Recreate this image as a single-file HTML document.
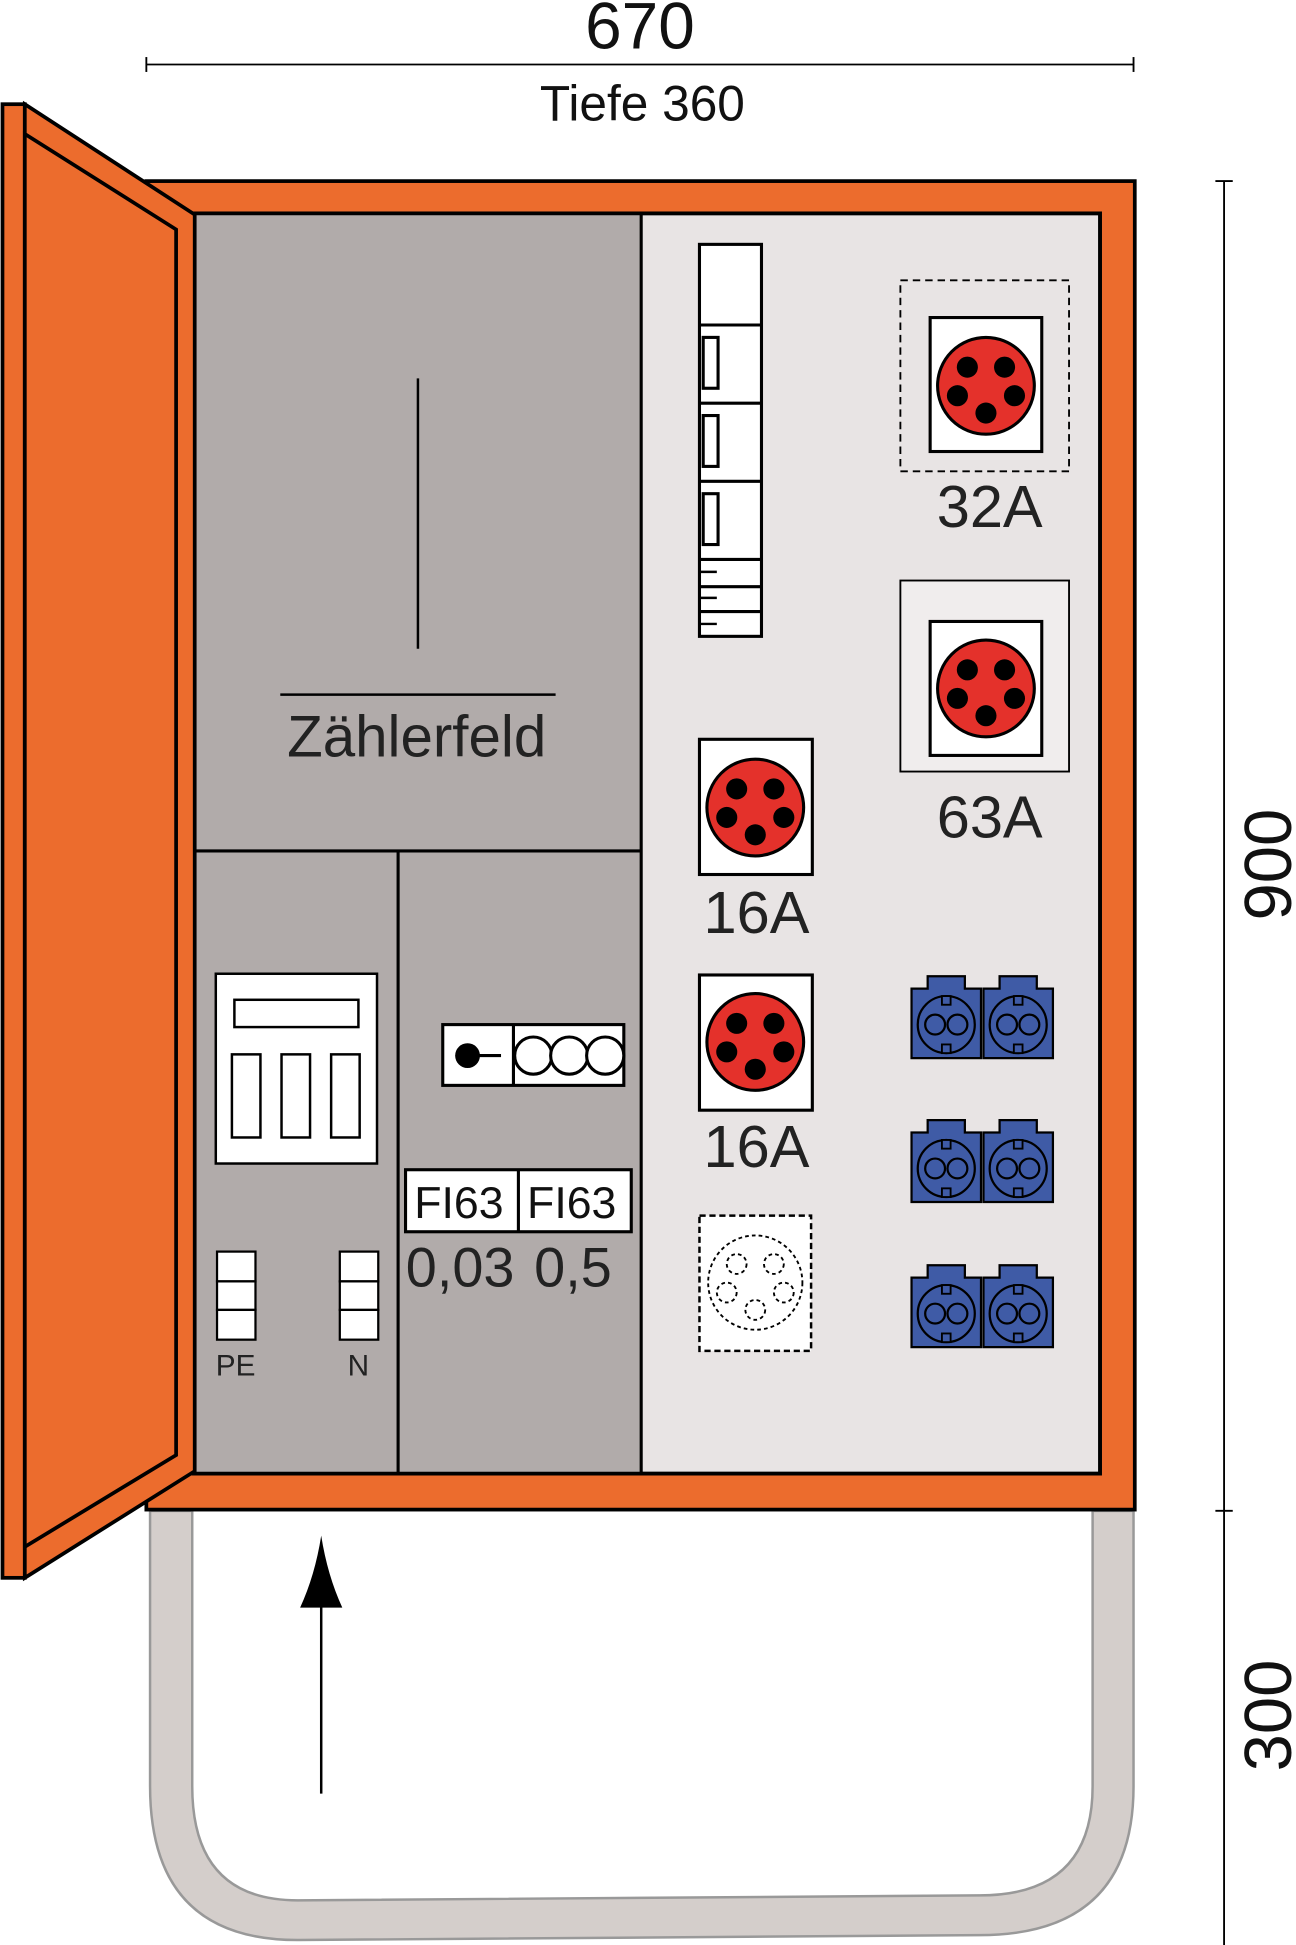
<!DOCTYPE html>
<html><head><meta charset="utf-8"><style>html,body{margin:0;padding:0;background:#fff}svg{display:block}</style></head>
<body>
<svg width="1296" height="1945" viewBox="0 0 1045 1568" preserveAspectRatio="none" xmlns="http://www.w3.org/2000/svg" font-family="Liberation Sans, Arial, sans-serif">
<defs>
<g id="red">
<circle r="39" fill="#e4312b" stroke="#000" stroke-width="2.5"/>
<circle cx="-15" cy="-15" r="8.5" fill="#000"/><circle cx="15" cy="-15" r="8.5" fill="#000"/>
<circle cx="-23" cy="8" r="8.5" fill="#000"/><circle cx="23" cy="8" r="8.5" fill="#000"/>
<circle cx="0" cy="22" r="8.5" fill="#000"/>
</g>
<g id="blue">
<path d="M13,0 H43 V10 H56 V66 H0 V10 H13 Z" fill="#3f5ba6" stroke="#000" stroke-width="1.8"/>
<circle cx="28" cy="39" r="23" fill="#3f5ba6" stroke="#000" stroke-width="1.8"/>
<circle cx="19" cy="39" r="8" fill="none" stroke="#000" stroke-width="1.8"/>
<circle cx="37" cy="39" r="8" fill="none" stroke="#000" stroke-width="1.8"/>
<rect x="24.5" y="16" width="7" height="7" fill="#3f5ba6" stroke="#000" stroke-width="1.5"/>
<rect x="24.5" y="55" width="7" height="7" fill="#3f5ba6" stroke="#000" stroke-width="1.5"/>
</g>
</defs>

<!-- dimensions -->
<line x1="118" y1="52" x2="914" y2="52" stroke="#000" stroke-width="1.5"/>
<line x1="118" y1="46" x2="118" y2="58" stroke="#000" stroke-width="1.5"/>
<line x1="914" y1="46" x2="914" y2="58" stroke="#000" stroke-width="1.5"/>
<text x="516" y="39" font-size="53" text-anchor="middle" fill="#111">670</text>
<text x="518" y="97" font-size="40" text-anchor="middle" fill="#111">Tiefe 360</text>
<line x1="987" y1="146" x2="987" y2="1568" stroke="#000" stroke-width="1.5"/>
<line x1="980" y1="146" x2="994" y2="146" stroke="#000" stroke-width="1.5"/>
<line x1="980" y1="1218" x2="994" y2="1218" stroke="#000" stroke-width="1.5"/>
<text transform="translate(1041,697) rotate(-90)" font-size="54" text-anchor="middle" fill="#111">900</text>
<text transform="translate(1041,1383) rotate(-90)" font-size="54" text-anchor="middle" fill="#111">300</text>

<!-- stand -->
<path d="M121,1218 V1440 Q121,1564 240,1564 L790,1560 Q914,1560 914,1440 V1218 H881 V1440 Q881,1528 790,1528 L240,1532 Q155,1532 155,1440 V1218 Z" fill="#d4cecb" stroke="#999" stroke-width="2"/>

<!-- cabinet -->
<rect x="118" y="146" width="797" height="1071" fill="#ec6c2d" stroke="#000" stroke-width="3"/>
<rect x="156" y="172" width="731" height="1016" fill="#e8e4e4" stroke="#000" stroke-width="3"/>
<rect x="157.5" y="173.5" width="359" height="1013" fill="#b1abaa"/>
<line x1="517" y1="172" x2="517" y2="1188" stroke="#000" stroke-width="2.5"/>
<line x1="156" y1="686" x2="517" y2="686" stroke="#000" stroke-width="2.5"/>
<line x1="321" y1="686" x2="321" y2="1188" stroke="#000" stroke-width="2.5"/>
<rect x="156" y="172" width="731" height="1016" fill="none" stroke="#000" stroke-width="3"/>

<!-- door -->
<rect x="2" y="84" width="18" height="1188" fill="#ec6c2d" stroke="#000" stroke-width="3"/>
<polygon points="20,84 157,173 157,1186 20,1272" fill="#ec6c2d" stroke="#000" stroke-width="3"/>
<polygon points="20,108 142,185 142,1173 20,1247" fill="#ec6c2d" stroke="#000" stroke-width="3"/>

<!-- Zählerfeld -->
<line x1="337" y1="305" x2="337" y2="523" stroke="#000" stroke-width="2"/>
<line x1="226" y1="560" x2="448" y2="560" stroke="#000" stroke-width="2"/>
<text x="336" y="610" font-size="47" text-anchor="middle" fill="#222">Zählerfeld</text>

<!-- meter box -->
<rect x="174" y="785" width="130" height="153" fill="#fff" stroke="#000" stroke-width="2"/>
<rect x="189" y="806" width="100" height="22" fill="#fff" stroke="#000" stroke-width="2"/>
<rect x="187" y="850" width="23" height="67" fill="#fff" stroke="#000" stroke-width="2"/>
<rect x="227" y="850" width="23" height="67" fill="#fff" stroke="#000" stroke-width="2"/>
<rect x="267" y="850" width="23" height="67" fill="#fff" stroke="#000" stroke-width="2"/>

<!-- PE / N -->
<g fill="#fff" stroke="#000" stroke-width="1.8">
<rect x="175" y="1009" width="31" height="24"/><rect x="175" y="1033" width="31" height="23"/><rect x="175" y="1056" width="31" height="24"/>
<rect x="274" y="1009" width="31" height="24"/><rect x="274" y="1033" width="31" height="23"/><rect x="274" y="1056" width="31" height="24"/>
</g>
<text x="190" y="1109" font-size="24" text-anchor="middle" fill="#222">PE</text>
<text x="289" y="1109" font-size="24" text-anchor="middle" fill="#222">N</text>

<!-- switch -->
<rect x="357" y="826" width="146" height="49" fill="#fff" stroke="#000" stroke-width="2.5"/>
<line x1="414" y1="826" x2="414" y2="875" stroke="#000" stroke-width="2.5"/>
<circle cx="377" cy="851" r="10" fill="#000"/>
<line x1="377" y1="851" x2="404" y2="851" stroke="#000" stroke-width="2.5"/>
<g fill="#fff" stroke="#000" stroke-width="2.5"><circle cx="430" cy="851" r="15"/><circle cx="459" cy="851" r="15"/><circle cx="488" cy="851" r="15"/></g>

<!-- FI -->
<rect x="327" y="943" width="182" height="50" fill="#fff" stroke="#000" stroke-width="2.5"/>
<line x1="418" y1="943" x2="418" y2="993" stroke="#000" stroke-width="2.5"/>
<text x="370" y="982" font-size="36" text-anchor="middle" fill="#111">FI63</text>
<text x="461" y="982" font-size="36" text-anchor="middle" fill="#111">FI63</text>
<text x="371" y="1037" font-size="45" text-anchor="middle" fill="#222">0,03</text>
<text x="462" y="1037" font-size="45" text-anchor="middle" fill="#222">0,5</text>

<!-- fuse column -->
<rect x="564" y="197" width="50" height="316" fill="#fff" stroke="#000" stroke-width="2.5"/>
<g stroke="#000" stroke-width="2.5" fill="none">
<line x1="564" y1="262" x2="614" y2="262"/><line x1="564" y1="325" x2="614" y2="325"/>
<line x1="564" y1="388" x2="614" y2="388"/><line x1="564" y1="451" x2="614" y2="451"/>
<line x1="564" y1="473" x2="614" y2="473"/><line x1="564" y1="493" x2="614" y2="493"/>
<rect x="567" y="272" width="12" height="41"/><rect x="567" y="335" width="12" height="41"/><rect x="567" y="398" width="12" height="41"/>
<line x1="564" y1="461" x2="578" y2="461" stroke-width="2"/><line x1="564" y1="482" x2="578" y2="482" stroke-width="2"/><line x1="564" y1="503" x2="578" y2="503" stroke-width="2"/>
</g>

<!-- 32A -->
<rect x="726" y="226" width="136" height="154" fill="none" stroke="#000" stroke-width="1.5" stroke-dasharray="6,4"/>
<rect x="750" y="256" width="90" height="108" fill="#fff" stroke="#000" stroke-width="2.5"/>
<use href="#red" x="795" y="311"/>
<text x="798" y="425" font-size="48" text-anchor="middle" fill="#222">32A</text>

<!-- 63A -->
<rect x="726" y="468" width="136" height="154" fill="#fff" fill-opacity="0.35" stroke="#000" stroke-width="1.5"/>
<rect x="750" y="501" width="90" height="108" fill="#fff" stroke="#000" stroke-width="2.5"/>
<use href="#red" x="795" y="555"/>
<text x="798" y="675" font-size="48" text-anchor="middle" fill="#222">63A</text>

<!-- 16A -->
<rect x="564" y="596" width="91" height="109" fill="#fff" stroke="#000" stroke-width="2.5"/>
<use href="#red" x="609" y="651"/>
<text x="610" y="752" font-size="48" text-anchor="middle" fill="#222">16A</text>
<rect x="564" y="786" width="91" height="109" fill="#fff" stroke="#000" stroke-width="2.5"/>
<use href="#red" x="609" y="840"/>
<text x="610" y="941" font-size="48" text-anchor="middle" fill="#222">16A</text>

<!-- dashed socket -->
<rect x="564" y="980" width="90" height="109" fill="#fff" stroke="#000" stroke-width="2" stroke-dasharray="5,3"/>
<g fill="none" stroke="#000" stroke-width="1.5" stroke-dasharray="3,2.5">
<circle cx="609" cy="1034" r="38"/>
<circle cx="594" cy="1019" r="8"/><circle cx="624" cy="1019" r="8"/>
<circle cx="586" cy="1042" r="8"/><circle cx="632" cy="1042" r="8"/><circle cx="609" cy="1056" r="8"/>
</g>

<!-- blue sockets -->
<use href="#blue" x="735" y="787"/><use href="#blue" x="793" y="787"/>
<use href="#blue" x="735" y="903"/><use href="#blue" x="793" y="903"/>
<use href="#blue" x="735" y="1020"/><use href="#blue" x="793" y="1020"/>

<!-- arrow -->
<line x1="259" y1="1446" x2="259" y2="1290" stroke="#000" stroke-width="2"/>
<path d="M259,1238 Q264,1270 276,1296 H242 Q254,1270 259,1238 Z" fill="#000"/>
</svg>
</body></html>
